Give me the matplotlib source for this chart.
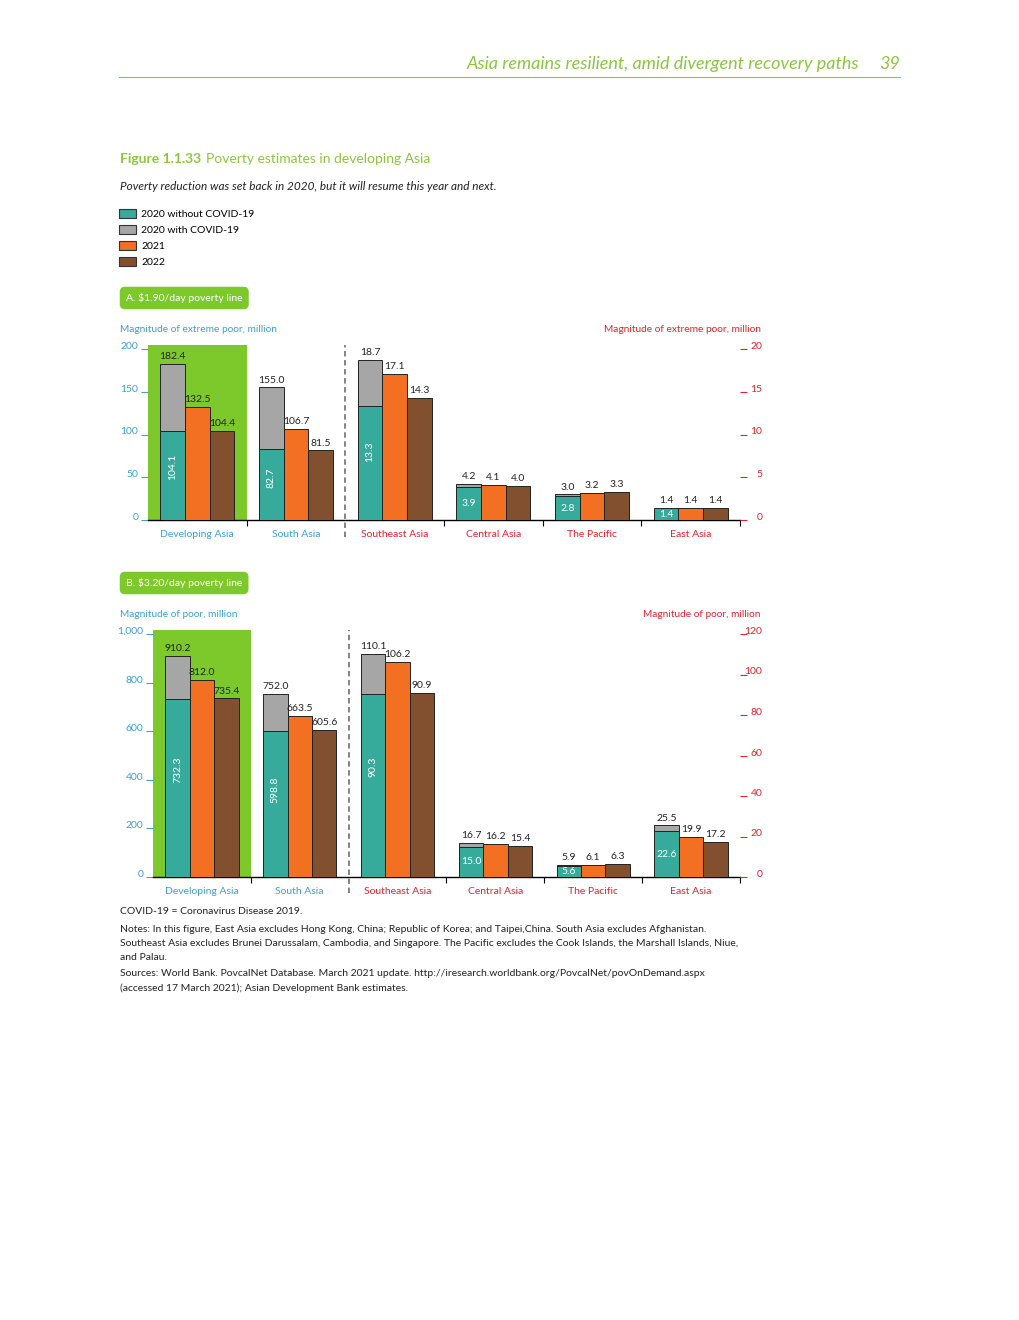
import matplotlib.pyplot as plt
from matplotlib.patches import Patch

plt.rcParams['font.family'] = ['Lato', 'DejaVu Sans']

regions = ['Developing Asia', 'South Asia', 'Southeast Asia', 'Central Asia', 'The Pacific', 'East Asia']
series = ['2020 without COVID-19', '2020 with COVID-19', '2021', '2022']

# A. $1.90/day poverty line (first two groups on left axis, rest on right axis)
a_without = [104.1, 82.7, 13.3, 3.9, 2.8, 1.4]
a_with = [182.4, 155.0, 18.7, 4.2, 3.0, 1.4]
a_2021 = [132.5, 106.7, 17.1, 4.1, 3.2, 1.4]
a_2022 = [104.4, 81.5, 14.3, 4.0, 3.3, 1.4]
a_left_ticks = [0, 50, 100, 150, 200]
a_right_ticks = [0, 5, 10, 15, 20]

# B. $3.20/day poverty line
b_without = [732.3, 598.8, 90.3, 15.0, 5.6, 22.6]
b_with = [910.2, 752.0, 110.1, 16.7, 5.9, 25.5]
b_2021 = [812.0, 663.5, 106.2, 16.2, 6.1, 19.9]
b_2022 = [735.4, 605.6, 90.9, 15.4, 6.3, 17.2]
b_left_ticks = [0, 200, 400, 600, 800, 1000]
b_right_ticks = [0, 20, 40, 60, 80, 100, 120]

TEAL = '#36aa9b'
GRAY = '#a7a6a6'
ORANGE = '#f36f21'
BROWN = '#83502f'
GREEN = '#7dc82b'
HEAD = '#8cc63f'
BLUE = '#3d9fd3'
RED = '#e1242e'

W, H = 1020, 1320
fig = plt.figure(figsize=(W / 100, H / 100), dpi=100)


def fy(py):
    return 1 - py / H


def fx(px):
    return px / W


# header
fig.text(fx(859), fy(64), 'Asia remains resilient, amid divergent recovery paths', ha='right', va='center',
         fontsize=13, style='italic', color=HEAD)
fig.text(fx(900), fy(64), '39', ha='right', va='center', fontsize=13, style='italic', color=HEAD)
fig.add_artist(plt.Line2D([fx(119), fx(900)], [fy(77), fy(77)], color=HEAD, lw=0.8))

fig.text(fx(120), fy(159), 'Figure 1.1.33', ha='left', va='center', fontsize=10, fontweight='bold', color=HEAD)
fig.text(fx(206), fy(159), 'Poverty estimates in developing Asia', ha='left', va='center', fontsize=10, color=HEAD)
fig.text(fx(120), fy(186), 'Poverty reduction was set back in 2020, but it will resume this year and next.',
         ha='left', va='center', fontsize=8.5, style='italic', color='#222222')

handles = [Patch(fc=c, ec='#333333', lw=0.8) for c in [TEAL, GRAY, ORANGE, BROWN]]
fig.legend(handles, series, loc='upper left', bbox_to_anchor=(fx(119), fy(209)), frameon=False,
           fontsize=7.5, handlelength=1.6, handleheight=0.9, labelspacing=0.58, handletextpad=0.55,
           borderpad=0, borderaxespad=0)


def panel_label(py, text):
    fig.text(fx(126), fy(py), text, ha='left', va='center', fontsize=7.5, color='white',
             bbox=dict(boxstyle='round,pad=0.6,rounding_size=0.5', fc=GREEN, ec='none'))


def panel(rect, without, with_, y21, y22, lticks, rticks, lmax, rmax, sep_low):
    ax = fig.add_axes(rect)
    ax2 = ax.twinx()
    ax.set_xlim(0, 6)
    ax.set_ylim(0, lmax)
    ax2.set_ylim(0, rmax)
    ax.axvspan(0, 1, color=GREEN, lw=0, zorder=0)
    w = 0.25
    for i in range(6):
        a = ax if i < 2 else ax2
        top = lmax if i < 2 else rmax
        c = i + 0.5
        a.bar(c - w, without[i], w, color=TEAL, ec='#222222', lw=0.7, zorder=3)
        if with_[i] > without[i]:
            a.bar(c - w, with_[i] - without[i], w, bottom=without[i], color=GRAY, ec='#222222', lw=0.7, zorder=3)
        a.bar(c, y21[i], w, color=ORANGE, ec='#222222', lw=0.7, zorder=3)
        a.bar(c + w, y22[i], w, color=BROWN, ec='#222222', lw=0.7, zorder=3)
        for x, v in [(c - w, with_[i]), (c, y21[i]), (c + w, y22[i])]:
            a.annotate(f'{v:.1f}', (x, v), xytext=(0, 2), textcoords='offset points',
                       ha='center', va='bottom', fontsize=7.5, color='#222222', zorder=4)
        if without[i] / top > 0.3:
            a.text(c - w, without[i] * 0.6, f'{without[i]:.1f}', rotation=90, color='white',
                   ha='center', va='center', fontsize=7.5, zorder=4)
        else:
            a.text(c - w, without[i] / 2, f'{without[i]:.1f}', color='white',
                   ha='center', va='center', fontsize=7.5, zorder=4)

    for s in ['left', 'right', 'top']:
        ax.spines[s].set_visible(False)
        ax2.spines[s].set_visible(False)
    ax2.spines['bottom'].set_visible(False)
    ax.spines['bottom'].set_linewidth(1)

    ax.set_xticks([i + 0.5 for i in range(6)], regions)
    ax.set_xticks([1, 3, 4, 5, 6], minor=True)
    ax.tick_params(axis='x', which='major', length=0, pad=7, labelsize=7.5)
    ax.tick_params(axis='x', which='minor', length=4, width=0.8)
    for i, t in enumerate(ax.get_xticklabels()):
        t.set_color(BLUE if i < 2 else RED)

    ax.set_yticks(lticks, [f'{v:,}' for v in lticks])
    ax.tick_params(axis='y', colors=BLUE, length=5, width=0.8, pad=2, labelsize=7.5)
    plt.setp(ax.get_yticklabels(), va='baseline')
    ax2.set_yticks(rticks, [str(v) for v in rticks])
    ax2.tick_params(axis='y', colors=RED, length=5, width=0.8, pad=11, labelsize=7.5)
    plt.setp(ax2.get_yticklabels(), va='baseline', ha='right')

    ax.axvline(2, ymin=sep_low, ymax=1, color='#7a7a7a', ls=(0, (3, 2)), lw=1.3, clip_on=False, zorder=5)
    return ax, ax2


# Panel A
panel_label(298, r'A. \$1.90/day poverty line')
fig.text(fx(120), fy(330), 'Magnitude of extreme poor, million', ha='left', va='center', fontsize=7.3, color=BLUE)
fig.text(fx(761), fy(330), 'Magnitude of extreme poor, million', ha='right', va='center', fontsize=7.3, color=RED)
panel([fx(148), fy(520), 592 / W, 175 / H], a_without, a_with, a_2021, a_2022,
      a_left_ticks, a_right_ticks, 200 * 175 / 171, 20 * 175 / 171, -0.097)

# Panel B
panel_label(583, r'B. \$3.20/day poverty line')
fig.text(fx(120), fy(615), 'Magnitude of poor, million', ha='left', va='center', fontsize=7.3, color=BLUE)
fig.text(fx(761), fy(615), 'Magnitude of poor, million', ha='right', va='center', fontsize=7.3, color=RED)
panel([fx(153), fy(877), 587 / W, 247 / H], b_without, b_with, b_2021, b_2022,
      b_left_ticks, b_right_ticks, 1000 * 247 / 243, 120 * 247 / 243, -0.065)

notes = [
    (912, 'COVID-19 = Coronavirus Disease 2019.'),
    (929, 'Notes: In this figure, East Asia excludes Hong Kong, China; Republic of Korea; and Taipei,China. South Asia excludes Afghanistan.'),
    (943, 'Southeast Asia excludes Brunei Darussalam, Cambodia, and Singapore. The Pacific excludes the Cook Islands, the Marshall Islands, Niue,'),
    (957, 'and Palau.'),
    (974, 'Sources: World Bank. PovcalNet Database. March 2021 update. http://iresearch.worldbank.org/PovcalNet/povOnDemand.aspx'),
    (988, '(accessed 17 March 2021); Asian Development Bank estimates.'),
]
for py, t in notes:
    fig.text(fx(120), fy(py), t, ha='left', va='center', fontsize=7.5, color='#222222')

fig.savefig('out.png', dpi=100)
